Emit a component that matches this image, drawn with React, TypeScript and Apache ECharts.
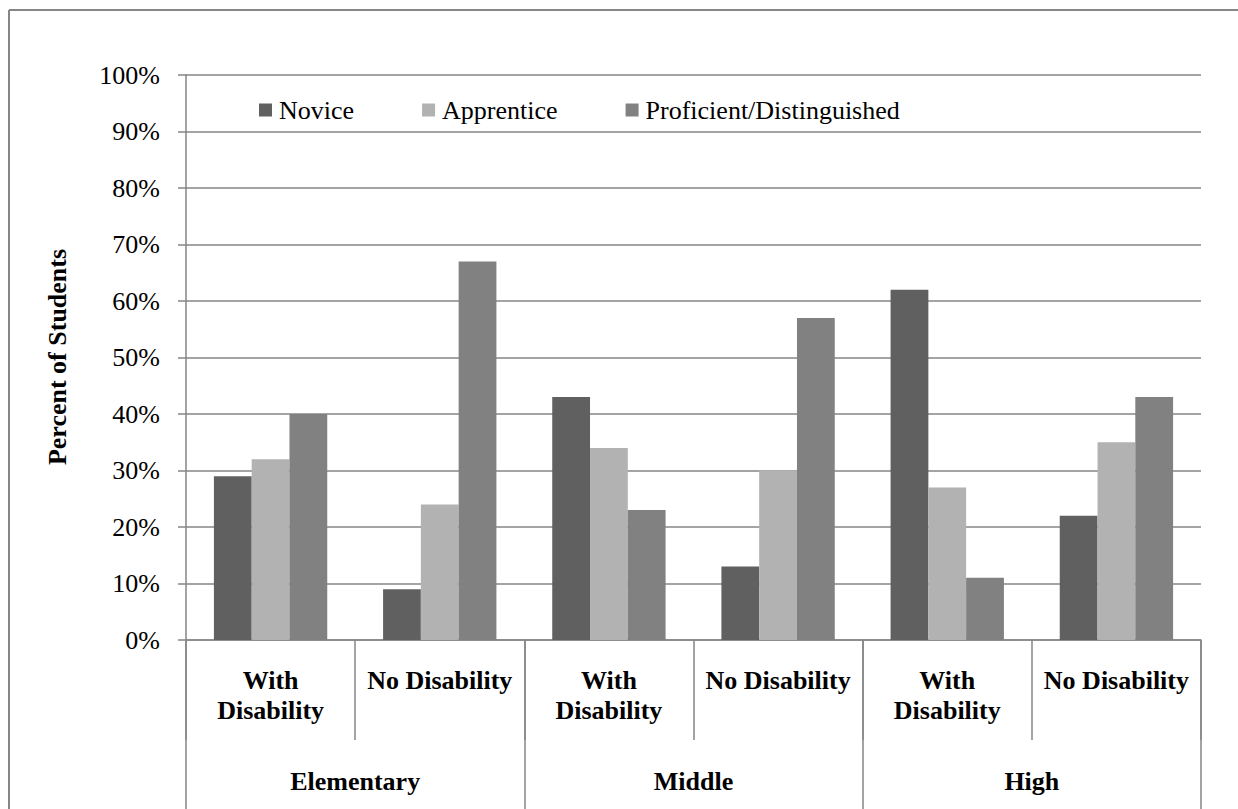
import React, { useEffect, useRef } from "react";
import * as echarts from "echarts";

const subCategories = [
  "With\nDisability",
  "No Disability",
  "With\nDisability",
  "No Disability",
  "With\nDisability",
  "No Disability",
];
const groups = ["Elementary", "Middle", "High"];
const seriesNames = ["Novice", "Apprentice", "Proficient/Distinguished"];
const novice = [29, 9, 43, 13, 62, 22];
const apprentice = [32, 24, 34, 30, 27, 35];
const proficient = [40, 67, 23, 57, 11, 43];
const colors = ["#606060", "#b2b2b2", "#818181"];

const FONT = "'Liberation Serif', 'Times New Roman', serif";
const GRID_COLOR = "#868686";

export default function App() {
  const ref = useRef<HTMLDivElement>(null);
  useEffect(() => {
    document.body.style.margin = "0";
    document.body.style.overflow = "hidden";
    document.documentElement.style.overflow = "hidden";
    if (!ref.current) return;
    const chart = echarts.init(ref.current, undefined, { renderer: "svg" });
    const values = [novice, apprentice, proficient];
    chart.setOption({
      animation: false,
      backgroundColor: "#ffffff",
      color: colors,
      textStyle: { fontFamily: FONT },
      grid: { left: 186, right: 37, top: 75, bottom: 169, containLabel: false },
      legend: {
        left: 254,
        top: 92,
        icon: "rect",
        itemWidth: 13,
        itemHeight: 13,
        itemGap: 68,
        data: seriesNames,
        textStyle: {
          fontFamily: FONT,
          fontSize: 26,
          color: "#000",
          padding: [0, 0, 0, 2],
        },
      },
      xAxis: [
        {
          type: "category",
          data: subCategories,
          position: "bottom",
          boundaryGap: true,
          axisLine: { show: true, lineStyle: { color: GRID_COLOR, width: 1.5 } },
          axisTick: {
            show: true,
            interval: 0,
            length: 100,
            lineStyle: { color: GRID_COLOR, width: 1.5 },
          },
          axisLabel: {
            interval: 0,
            margin: 25,
            fontFamily: FONT,
            fontSize: 26,
            fontWeight: "bold",
            color: "#000",
            lineHeight: 30,
          },
        },
        {
          type: "category",
          data: groups,
          position: "bottom",
          boundaryGap: true,
          axisLine: { show: false },
          axisTick: {
            show: true,
            interval: 0,
            length: 172,
            lineStyle: { color: GRID_COLOR, width: 1.5 },
          },
          axisLabel: {
            interval: 0,
            margin: 126,
            fontFamily: FONT,
            fontSize: 26,
            fontWeight: "bold",
            color: "#000",
            lineHeight: 30,
          },
        },
      ],
      yAxis: {
        type: "value",
        min: 0,
        max: 100,
        interval: 10,
        axisLine: { show: true, lineStyle: { color: GRID_COLOR, width: 1.5 } },
        axisTick: {
          show: true,
          length: 8,
          lineStyle: { color: GRID_COLOR, width: 1.5 },
        },
        splitLine: { show: true, lineStyle: { color: GRID_COLOR, width: 1.5 } },
        axisLabel: {
          formatter: "{value}%",
          margin: 26,
          fontFamily: FONT,
          fontSize: 26,
          color: "#000",
        },
      },
      series: seriesNames.map((name, i) => ({
        name,
        type: "bar",
        xAxisIndex: 0,
        data: values[i],
        barGap: "0%",
        barCategoryGap: "33%",
        itemStyle: { color: colors[i] },
      })),
      graphic: [
        {
          type: "line",
          shape: { x1: 9, y1: 10, x2: 1238, y2: 10 },
          style: { stroke: GRID_COLOR, lineWidth: 2 },
          silent: true,
        },
        {
          type: "line",
          shape: { x1: 9, y1: 10, x2: 9, y2: 809 },
          style: { stroke: GRID_COLOR, lineWidth: 2 },
          silent: true,
        },
        {
          type: "text",
          x: 57,
          y: 357,
          rotation: Math.PI / 2,
          style: {
            text: "Percent of Students",
            fontFamily: FONT,
            fontSize: 26,
            fontWeight: "bold",
            fill: "#000",
            textAlign: "center",
            textVerticalAlign: "middle",
          },
        },
      ],
    });
    return () => chart.dispose();
  }, []);
  return (
    <div
      ref={ref}
      style={{ position: "absolute", left: 0, top: 0, width: 1238, height: 809 }}
    />
  );
}
